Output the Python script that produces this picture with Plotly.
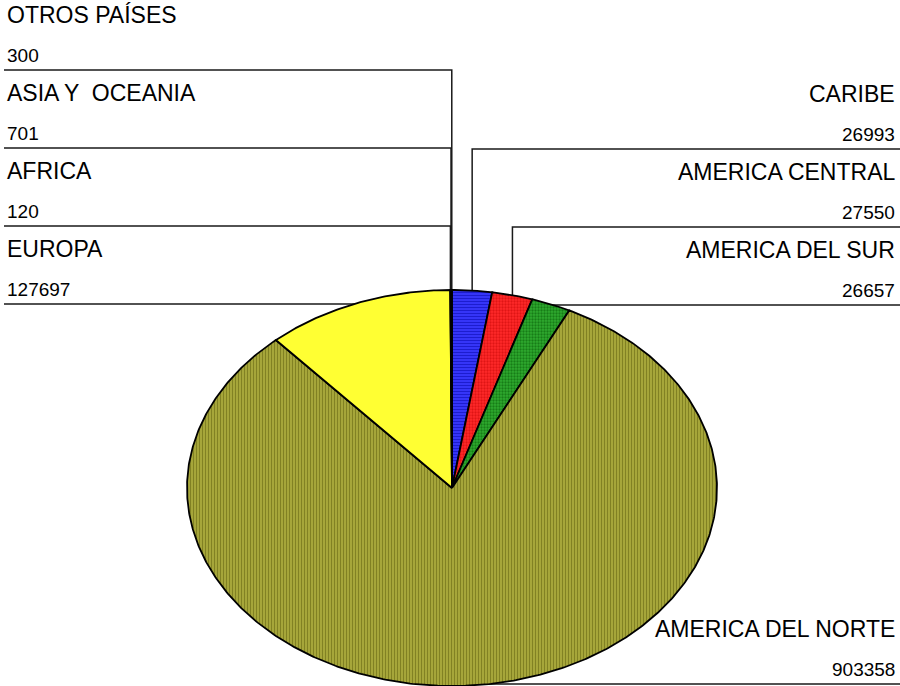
import numpy as np
import plotly.graph_objects as go

# ---- data ----
regions = ["CARIBE", "AMERICA CENTRAL", "AMERICA DEL SUR", "AMERICA DEL NORTE",
           "EUROPA", "AFRICA", "ASIA Y  OCEANIA", "OTROS PAÍSES"]
values = [26993, 27550, 26657, 903358, 127697, 120, 701, 300]

# ---- styles / layout ----
fill_bg = ["#3a3aff", "#ff2a2a", "#2faa2f", "#adad3e", "#ffff33", "#ff99cc", "#99ccff", "#cccccc"]
fill_fg = ["#0000a0", "#c00000", "#005000", "#555508", "#ffff33", "#ff99cc", "#99ccff", "#cccccc"]
pattern = ["-", ".", ".", "|", "", "", "", ""]
side = ["right", "right", "right", "right", "left", "left", "left", "left"]
label_line_y = [149, 227, 305, 684, 304, 226, 148, 70]

W, H = 900, 686
CX, CY, RX, RY = 452, 488, 265, 198
LABEL_FONT = dict(family="Liberation Sans, Arial, sans-serif", size=23, color="#000000")
VALUE_FONT = dict(family="Liberation Sans, Arial, sans-serif", size=19, color="#000000")

fig = go.Figure()
total = float(sum(values))
cum = 0.0
shapes = []
annotations = []
for i, (name, v) in enumerate(zip(regions, values)):
    t0 = cum / total * 2 * np.pi
    cum += v
    t1 = cum / total * 2 * np.pi
    n = max(3, int(np.degrees(t1 - t0) * 2))
    ts = np.linspace(t0, t1, n)
    xs = np.concatenate([[CX], CX + RX * np.sin(ts), [CX]])
    ys = np.concatenate([[CY], CY - RY * np.cos(ts), [CY]])
    fp = dict(shape=pattern[i], fgcolor=fill_fg[i], bgcolor=fill_bg[i], size=3, solidity=0.45) if pattern[i] else None
    fig.add_trace(go.Scatter(
        x=xs, y=ys, mode="lines", fill="toself", fillcolor=fill_bg[i],
        fillpattern=fp, line=dict(color="#000000", width=1.8),
        hoverinfo="text", text=f"{name}: {v}", showlegend=False))

    # leader line from slice middle
    tm = (t0 + t1) / 2
    ax = CX + RX * np.sin(tm)
    ay = CY - RY * np.cos(tm)
    ly = label_line_y[i]
    if side[i] == "left":
        path = f"M 4 {ly} L {ax} {ly} L {ax} {ay}"
        xa, xanc = 5, "left"
    else:
        path = f"M {W} {ly} L {ax} {ly} L {ax} {ay}"
        xa, xanc = 897, "right"
    shapes.append(dict(type="path", path=path, xref="x", yref="y", layer="below",
                       line=dict(color="#1a1a1a", width=1.5)))
    annotations.append(dict(x=xa, y=ly - 55, xref="x", yref="y", text=name, showarrow=False,
                            xanchor=xanc, yanchor="middle", font=LABEL_FONT))
    annotations.append(dict(x=xa, y=ly - 15, xref="x", yref="y", text=str(v), showarrow=False,
                            xanchor=xanc, yanchor="middle", font=VALUE_FONT))

fig.update_layout(
    width=W, height=H, margin=dict(l=0, r=0, t=0, b=0),
    paper_bgcolor="white", plot_bgcolor="white",
    xaxis=dict(range=[0, W], visible=False, fixedrange=True),
    yaxis=dict(range=[H, 0], visible=False, fixedrange=True),
    shapes=shapes, annotations=annotations, showlegend=False,
)
fig.write_html("out.html", config={"displayModeBar": False},
               post_script="document.body.style.margin='0';document.body.style.overflow='hidden';")
